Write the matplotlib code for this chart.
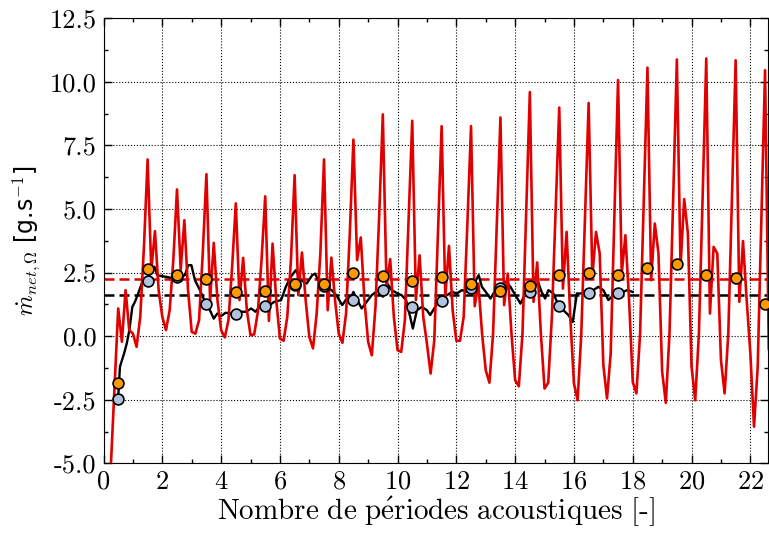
import numpy as np
import matplotlib
matplotlib.use("Agg")
import matplotlib.pyplot as plt
from matplotlib.ticker import MultipleLocator, FormatStrFormatter

plt.rcParams['font.family'] = ['cmr10', 'DejaVu Serif']
plt.rcParams['mathtext.fontset'] = 'cm'
plt.rcParams['axes.unicode_minus'] = False
plt.rcParams['axes.formatter.use_mathtext'] = True

# red signal, one sample every 1/8 period starting at t = 0.25
red_vals = [
    -5.1, -2.0, 1.09, -0.22, 1.81, 0.24, 0.1, -0.42, 0.76, 3.5,
    6.95, 2.6, 4.13, 1.81, 0.76, 0.24, 1.02, 3.0, 5.77, 2.6,
    4.56, 1.81, 0.17, 0.1, 0.63, 3.25, 6.37, 1.42, 3.67, 1.42,
    0.24, -0.05, 0.63, 2.73, 5.22, 1.42, 3.08, 1.02, 0.04, 0.07,
    0.96, 3.0, 5.5, 0.6, 3.64, 1.42, -0.09, -0.18, 0.76, 3.0,
    6.33, 1.61, 3.29, 1.42, -0.03, -0.48, 0.89, 3.25, 6.95, 1.02,
    3.09, 1.42, 0.1, -0.26, 0.89, 4.0, 7.73, 2.99, 3.88, 1.42,
    -0.22, -0.75, 1.15, 4.7, 8.72, 1.94, 3.03, 0.76, -0.55, -0.62,
    0.63, 4.5, 8.47, 1.42, 3.18, 0.76, -0.29, -1.47, -0.16, 4.0,
    8.26, 1.55, 3.55, 1.02, -0.18, -0.18, 0.76, 4.4, 8.26, 1.18,
    2.07, 0.1, -1.34, -1.83, 0.1, 4.3, 8.6, 1.22, 2.46, 0.1,
    -1.73, -1.97, 0.1, 4.8, 9.6, 1.35, 2.9, 0.1, -2.06, -1.83,
    0.76, 4.9, 8.99, 1.87, 4.1, 0.76, -1.86, -2.52, 0.1, 4.6,
    9.17, 2.33, 4.1, 3.25, -1.14, -2.45, -0.68, 4.7, 10.07, 2.46,
    3.97, 1.42, -1.8, -2.25, 0.1, 5.3, 10.56, 2.2, 4.43, 3.25,
    -1.4, -2.62, 0.1, 5.4, 10.88, 2.73, 5.39, 4.04, -1.2, -2.52,
    0.1, 5.4, 10.92, 0.89, 3.51, 3.25, -0.94, -2.25, 0.1, 5.4,
    10.85, 1.35, 3.74, 1.42, -0.68, -3.56, -1.2, 4.6, 10.46, -0.5,
]
t_red = 0.25 + 0.125 * np.arange(len(red_vals))

# black signal
t_black = [0.5, 0.56, 0.63, 0.7, 0.79, 0.88, 0.98, 1.07, 1.18, 1.3, 1.41, 1.5, 1.63, 1.73,
           1.83, 1.97, 2.15, 2.37, 2.6, 2.77, 2.88, 2.99, 3.11, 3.28, 3.48, 3.62, 3.75, 3.87,
           4.0, 4.15, 4.35, 4.47, 4.63, 4.85, 5.02, 5.17, 5.3, 5.46, 5.64, 5.81, 6.04, 6.2,
           6.37, 6.54, 6.71, 6.91, 7.1, 7.2, 7.37, 7.53, 7.76, 7.92, 8.12, 8.27, 8.38, 8.5,
           8.63, 8.78, 8.95, 9.12, 9.35, 9.5, 9.65, 9.8, 10.0, 10.14, 10.29, 10.43, 10.52,
           10.66, 10.83, 11.0, 11.11, 11.28, 11.5, 11.68, 11.85, 12.02, 12.19, 12.36, 12.5,
           12.64, 12.76, 12.87, 13.04, 13.16, 13.33, 13.5, 13.67, 13.84, 14.01, 14.18, 14.35,
           14.5, 14.62, 14.79, 14.9, 15.02, 15.13, 15.3, 15.49, 15.64, 15.81, 15.96, 16.1,
           16.27, 16.49, 16.66, 16.83, 17.0, 17.17, 17.34, 17.48, 17.62, 17.8, 18.0]
black_vals = [-2.4, -1.2, -0.94, -0.68, -0.29, 0.24, 1.15, 1.35, 1.68, 2.07, 2.2, 2.16, 2.66, 2.73,
              2.4, 2.36, 2.33, 2.27, 2.33, 2.4, 2.79, 2.79, 2.2, 1.81, 1.28, 1.02, 0.69, 0.89,
              0.79, 0.92, 0.89, 0.69, 0.96, 0.96, 1.09, 0.96, 1.15, 1.18, 1.22, 1.35, 1.42, 1.94,
              2.33, 2.6, 2.2, 2.07, 2.4, 2.46, 2.0, 1.94, 1.81, 1.61, 1.22, 1.48, 1.42, 1.74,
              1.42, 1.09, 1.35, 1.61, 1.81, 1.55, 2.07, 1.81, 1.68, 1.61, 1.42, 0.76, 0.3,
              1.02, 1.15, 1.02, 0.83, 1.15, 1.55, 1.61, 1.74, 1.68, 1.81, 1.74, 2.0,
              2.14, 2.4, 1.94, 1.68, 1.48, 1.81, 1.94, 2.14, 1.94, 1.61, 1.28, 1.68,
              1.74, 1.94, 2.1, 1.74, 1.48, 1.81, 1.68, 1.18, 1.02, 0.83, 0.56, 1.68,
              1.68, 1.68, 1.81, 1.94, 1.81, 1.42, 1.61, 1.68, 1.7, 1.81, 1.74]

# per-period averages (markers at mid-period)
red_avg = [-1.83, 2.66, 2.39, 2.24, 1.74, 1.78, 2.07, 2.07, 2.5, 2.36, 2.16, 2.33,
           2.04, 1.78, 1.97, 2.39, 2.49, 2.42, 2.7, 2.83, 2.4, 2.29, 1.28]
black_avg = [-2.49, 2.16, 2.33, 1.28, 0.89, 1.18, 2.0, 1.97, 1.42, 1.81, 1.13, 1.38,
             1.91, 1.91, 1.74, 1.19, 1.68, 1.68]
t_red_avg = np.arange(len(red_avg)) + 0.5
t_black_avg = np.arange(len(black_avg)) + 0.5

red_mean = 2.25
black_mean = 1.61

red = '#e00000'
fig = plt.figure(figsize=(7.69, 5.35), dpi=100)
ax = fig.add_axes([0.1346, 0.134, 0.8641, 0.8318])

ax.axhline(red_mean, color=red, lw=1.8, dashes=(4.0, 2.0), zorder=2)
ax.axhline(black_mean, color='black', lw=1.8, dashes=(4.0, 2.0), zorder=2)
ax.plot(t_black, black_vals, color='black', lw=1.7, zorder=3)
ax.plot(t_red, red_vals, color=red, lw=1.9, zorder=4)
ax.plot(t_black_avg, black_avg, 'o', ms=7.8, mfc='#b0c4de', mec='black', mew=1.2, zorder=5)
ax.plot(t_red_avg, red_avg, 'o', ms=7.8, mfc='#ff9900', mec='black', mew=1.2, zorder=6)

ax.set_xlim(0, 22.6)
ax.set_ylim(-5, 12.5)
ax.xaxis.set_major_locator(MultipleLocator(2))
ax.xaxis.set_minor_locator(MultipleLocator(1))
ax.yaxis.set_major_locator(MultipleLocator(2.5))
ax.yaxis.set_minor_locator(MultipleLocator(1.25))
ax.yaxis.set_major_formatter(FormatStrFormatter('%.1f'))
ax.tick_params(which='both', direction='in', top=True, right=True, labelsize=19)
ax.tick_params(which='major', length=6, width=1, pad=5)
ax.tick_params(which='minor', length=3, width=1)
ax.grid(True, which='major', color='black', ls=':', lw=0.8)

ax.set_xlabel(r'$\mathrm{Nombre\ de\ p\acute{e}riodes\ acoustiques\ [}$-$\mathrm{]}$',
              fontsize=21, labelpad=0)
ax.set_ylabel(r'$\dot{m}_{net,\mathit{\Omega}}$ [g.s$^{-1}$]', fontsize=17,
              family=['DejaVu Sans'], labelpad=5)

fig.savefig('out.png', dpi=100)
